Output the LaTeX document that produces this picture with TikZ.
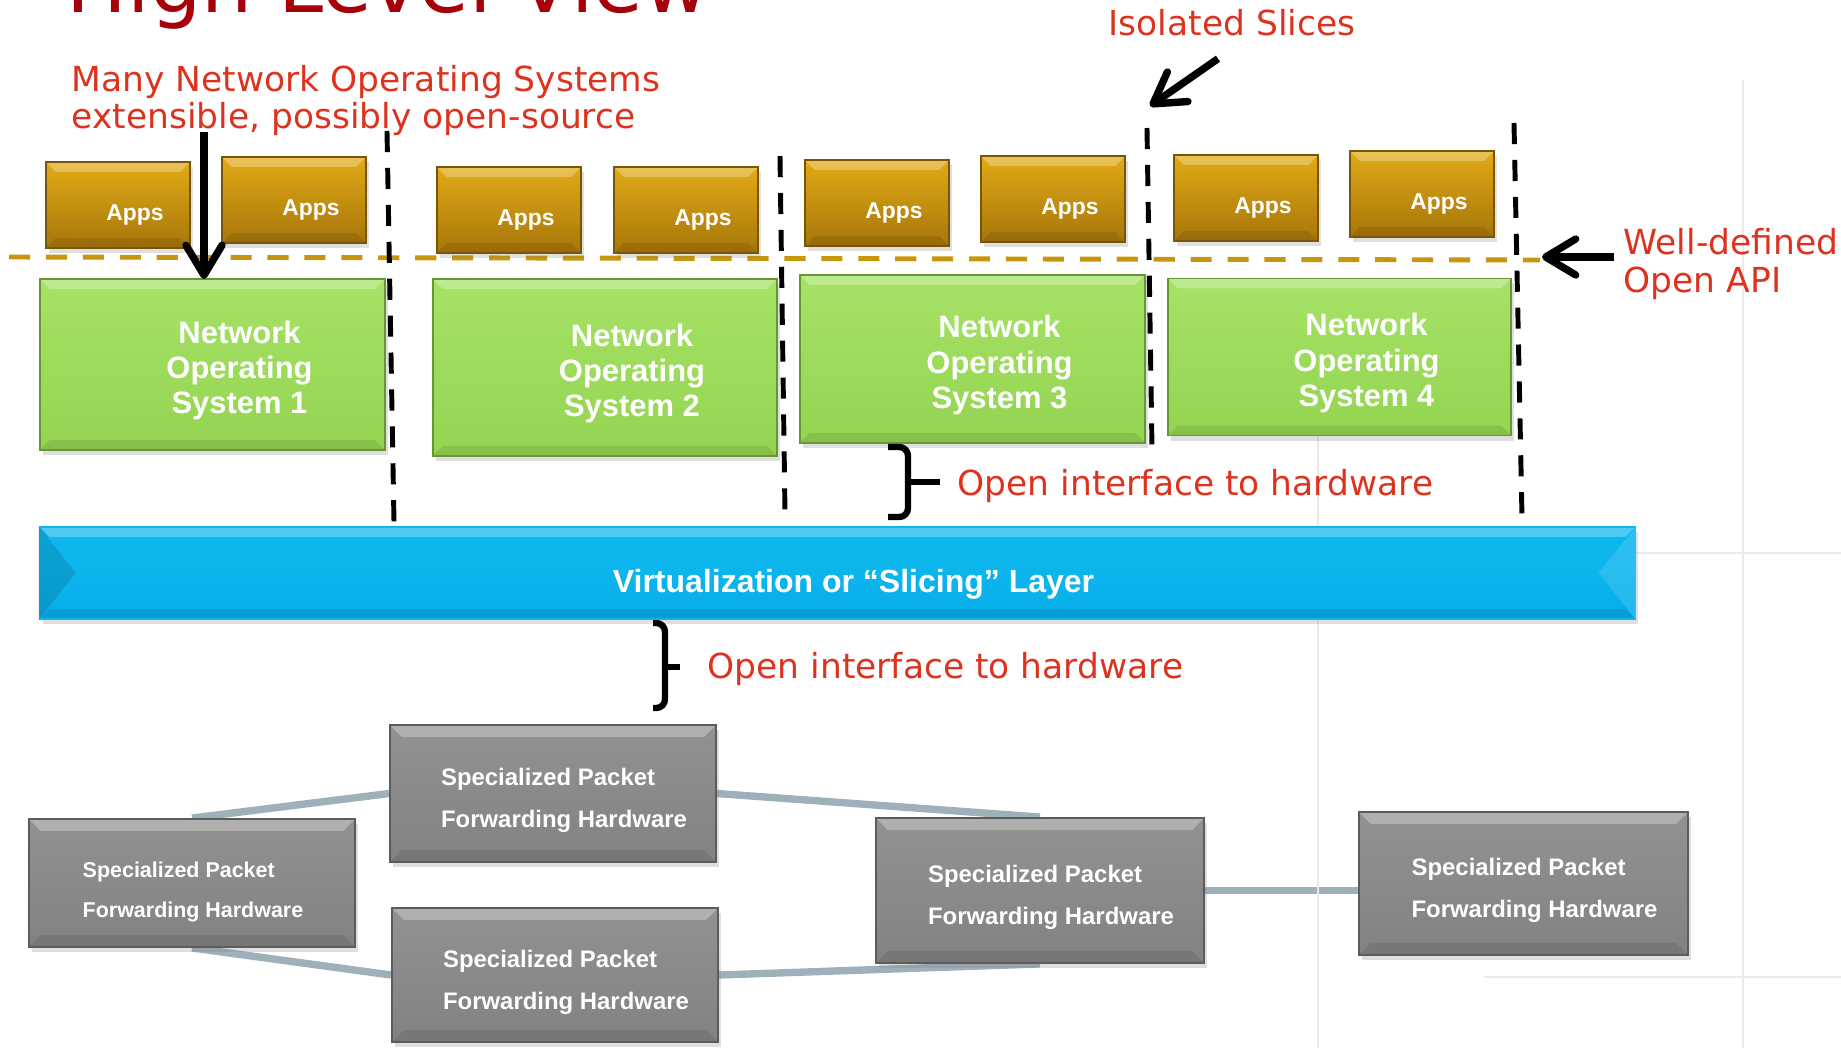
\documentclass[tikz,border=0pt]{standalone}
\usepackage{fontspec}
\setmainfont{DejaVu Sans}
\newfontfamily\boxfont{Liberation Sans}
\usetikzlibrary{arrows.meta,shadows,backgrounds}

\definecolor{slidered}{RGB}{221,51,30}
\definecolor{titlered}{RGB}{168,0,8}
\definecolor{appstop}{RGB}{226,170,22}
\definecolor{appsbot}{RGB}{166,118,10}
\definecolor{appsedge}{RGB}{120,86,8}
\definecolor{nostop}{RGB}{166,226,102}
\definecolor{nosbot}{RGB}{148,212,82}
\definecolor{nosedge}{RGB}{104,150,52}
\definecolor{bartop}{RGB}{70,244,255}
\definecolor{barmid}{RGB}{14,182,238}
\definecolor{barbot}{RGB}{0,166,228}
\definecolor{hwtop}{RGB}{146,146,146}
\definecolor{hwbot}{RGB}{130,130,130}
\definecolor{hwedge}{RGB}{92,92,92}
\definecolor{apigold}{RGB}{200,150,12}
\definecolor{linkgrey}{RGB}{158,176,185}
\definecolor{faint}{RGB}{236,234,230}

\pgfdeclareverticalshading{barshade}{100bp}{color(0bp)=(barbot); color(55bp)=(barmid); color(86bp)=(barmid); color(100bp)=(bartop)}

\tikzset{
  bevel/.style={path picture={
      \fill[white,opacity=0.28] (path picture bounding box.north west) -- (path picture bounding box.north east)
        -- ([shift={(-#1,-#1)}]path picture bounding box.north east) -- ([shift={(#1,-#1)}]path picture bounding box.north west) -- cycle;
      \fill[black,opacity=0.09] (path picture bounding box.south west) -- (path picture bounding box.south east)
        -- ([shift={(-#1,#1)}]path picture bounding box.south east) -- ([shift={(#1,#1)}]path picture bounding box.south west) -- cycle;}},
  bevel/.default=0.1cm,
  box/.style={inner sep=0pt, draw, line width=0.5pt, bevel,
    drop shadow={opacity=0.25,shadow xshift=0.03cm,shadow yshift=-0.05cm}},
  apps/.style={box, draw=appsedge, top color=appstop, bottom color=appsbot,
    minimum width=1.44cm, minimum height=0.86cm},
  appstxt/.style={text=white, font=\boxfont\bfseries\fontsize{6.5}{7}\selectfont, xshift=0.17cm, yshift=-0.1cm},
  nos/.style={box, draw=nosedge, top color=nostop, bottom color=nosbot},
  nostxt/.style={text=white, align=center, font=\boxfont\bfseries\fontsize{8.8}{10}\selectfont, xshift=0.27cm, yshift=-0.06cm},
  hw/.style={box, bevel=0.12cm, draw=hwedge, top color=hwtop, bottom color=hwbot},
  hwtxt/.style={text=white, align=left, font=\boxfont\bfseries\fontsize{6.8}{12}\selectfont, xshift=0.11cm, yshift=-0.07cm},
  redtxt/.style={text=slidered, inner sep=0pt, align=left, font=\fontsize{9.8}{10.5}\selectfont},
  bigarrow/.style={line width=2.1pt, -{Straight Barb[length=3mm,width=3.6mm,round]}},
  slicesep/.style={line width=1.4pt, dash pattern=on 6pt off 4.5pt},
  apiline/.style={apigold, line width=1.4pt, dash pattern=on 6pt off 4.5pt},
  hwlink/.style={linkgrey, line width=2.1pt},
  sqbrace/.style={line width=1.8pt, rounded corners=2.5pt},
  gridln/.style={faint, line width=0.5pt}
}

\begin{document}
\begin{tikzpicture}[x=0.01cm, y=-0.01cm]
    \useasboundingbox (0,0) rectangle (1841,1048);
    \clip (0,0) rectangle (1841,1048);

    % slide background lines
    \draw[gridln] (1743,80) -- (1743,1048);
    \draw[gridln] (1318,430) -- (1318,1048);
    \draw[gridln] (1635,553) -- (1841,553);
    \draw[gridln] (1484,977) -- (1841,977);

    % open API line
    \draw[apiline] (9,257) -- (1540,260);

    % hardware boxes
    \node[hw, minimum width=3.26cm, minimum height=1.37cm, label={[hwtxt]center:Specialized Packet\\Forwarding Hardware}] (hwa) at (553,793.5) {};
    \node[hw, minimum width=3.26cm, minimum height=1.28cm, label={[hwtxt, xshift=-0.1cm, yshift=-0.02cm, font=\boxfont\bfseries\fontsize{6.1}{11.4}\selectfont]center:Specialized Packet\\Forwarding Hardware}] (hwb) at (192,883) {};
    \node[hw, minimum width=3.26cm, minimum height=1.34cm, label={[hwtxt]center:Specialized Packet\\Forwarding Hardware}] (hwc) at (555,975) {};
    \node[hw, minimum width=3.28cm, minimum height=1.45cm, label={[hwtxt]center:Specialized Packet\\Forwarding Hardware}] (hwd) at (1040,890.5) {};
    \node[hw, minimum width=3.29cm, minimum height=1.43cm, label={[hwtxt]center:Specialized Packet\\Forwarding Hardware}] (hwe) at (1523.5,883.5) {};

    % links between the hardware boxes
    \begin{scope}[on background layer]
        \draw[hwlink] (hwb.north) -- (hwa.west);
        \draw[hwlink] (hwa.east) -- (hwd.north);
        \draw[hwlink] (hwb.south) -- (hwc.west);
        \draw[hwlink] (hwc.east) -- (hwd.south);
        \draw[hwlink] (hwd.east) -- (hwd.east -| hwe.west);
    \end{scope}

    % apps
    \node[apps, label={[appstxt]center:Apps}] (app1) at (118,205) {};
    \node[apps, label={[appstxt]center:Apps}] (app2) at (294,200) {};
    \node[apps, label={[appstxt]center:Apps}] (app3) at (509,210) {};
    \node[apps, label={[appstxt]center:Apps}] (app4) at (686,210) {};
    \node[apps, label={[appstxt]center:Apps}] (app5) at (877,203) {};
    \node[apps, label={[appstxt]center:Apps}] (app6) at (1053,199) {};
    \node[apps, label={[appstxt]center:Apps}] (app7) at (1246,198) {};
    \node[apps, label={[appstxt]center:Apps}] (app8) at (1422,194) {};

    % network operating systems
    \node[nos, minimum width=3.45cm, minimum height=1.71cm, label={[nostxt]center:Network\\Operating\\System 1}] (nos1) at (212.5,364.5) {};
    \node[nos, minimum width=3.44cm, minimum height=1.77cm, label={[nostxt]center:Network\\Operating\\System 2}] (nos2) at (605,367.5) {};
    \node[nos, minimum width=3.45cm, minimum height=1.68cm, label={[nostxt]center:Network\\Operating\\System 3}] (nos3) at (972.5,359) {};
    \node[nos, minimum width=3.43cm, minimum height=1.57cm, label={[nostxt]center:Network\\Operating\\System 4}] (nos4) at (1339.5,357) {};

    % slicing layer
    \node[box, draw=barmid, shading=barshade, minimum width=15.95cm, minimum height=0.92cm,
        label={[text=white, font=\boxfont\bfseries\fontsize{9.1}{10}\selectfont, xshift=0.16cm, yshift=-0.11cm]center:Virtualization or “Slicing” Layer}] (bar) at (837.5,573) {};
    \fill[black,opacity=0.12] (bar.north west) -- ([xshift=0.37cm]bar.west) -- (bar.south west) -- cycle;
    \fill[white,opacity=0.12] (bar.north east) -- ([xshift=-0.38cm]bar.east) -- (bar.south east) -- cycle;

    % slices
    \draw[slicesep] (387,131) -- (394,522);
    \draw[slicesep] (780,156) -- (785,513);
    \draw[slicesep] (1147,128) -- (1152,448);
    \draw[slicesep] (1514,123) -- (1522,517);

    % labels
    \node[redtxt, anchor=base west, text=titlered, font=\fontsize{23}{26}\selectfont] (title) at (66,12) {High Level View};
    \node[redtxt, anchor=north west] (many) at (71,64.5) {Many Network Operating Systems\\extensible, possibly open-source};
    \node[redtxt, anchor=base west] (iso) at (1108,35.5) {Isolated Slices};
    \node[redtxt, anchor=north west, font=\fontsize{9.8}{10.8}\selectfont] (api) at (1623,228) {Well-defined\\Open API};
    \node[redtxt, anchor=base west] (open1) at (957,495) {Open interface to hardware};
    \node[redtxt, anchor=base west] (open2) at (707,678) {Open interface to hardware};

    % braces
    \coordinate (br1a) at (888,447);
    \coordinate (br2a) at (653,623);
    \draw[sqbrace] (br1a) -- ++(20,0) -- ++(0,70) -- ++(-20,0);
    \draw[sqbrace] ([shift={(20,35)}]br1a) -- ++(32,0);
    \draw[sqbrace] (br2a) -- ++(12,0) -- ++(0,85) -- ++(-12,0);
    \draw[sqbrace] ([shift={(12,44)}]br2a) -- ++(15,0);

    % arrows
    \coordinate (isotip) at (1150,106);
    \coordinate (apitip) at (1542,257);
    \coordinate (nostip) at (204,279);
    \draw[bigarrow] ([shift={(-14,22)}]iso.south) -- (isotip);
    \draw[bigarrow] ([xshift=-0.09cm]api.west |- apitip) -- (apitip);
    \draw[bigarrow] ([yshift=0.04cm]many.south -| nostip) -- (nostip);
\end{tikzpicture}
\end{document}
